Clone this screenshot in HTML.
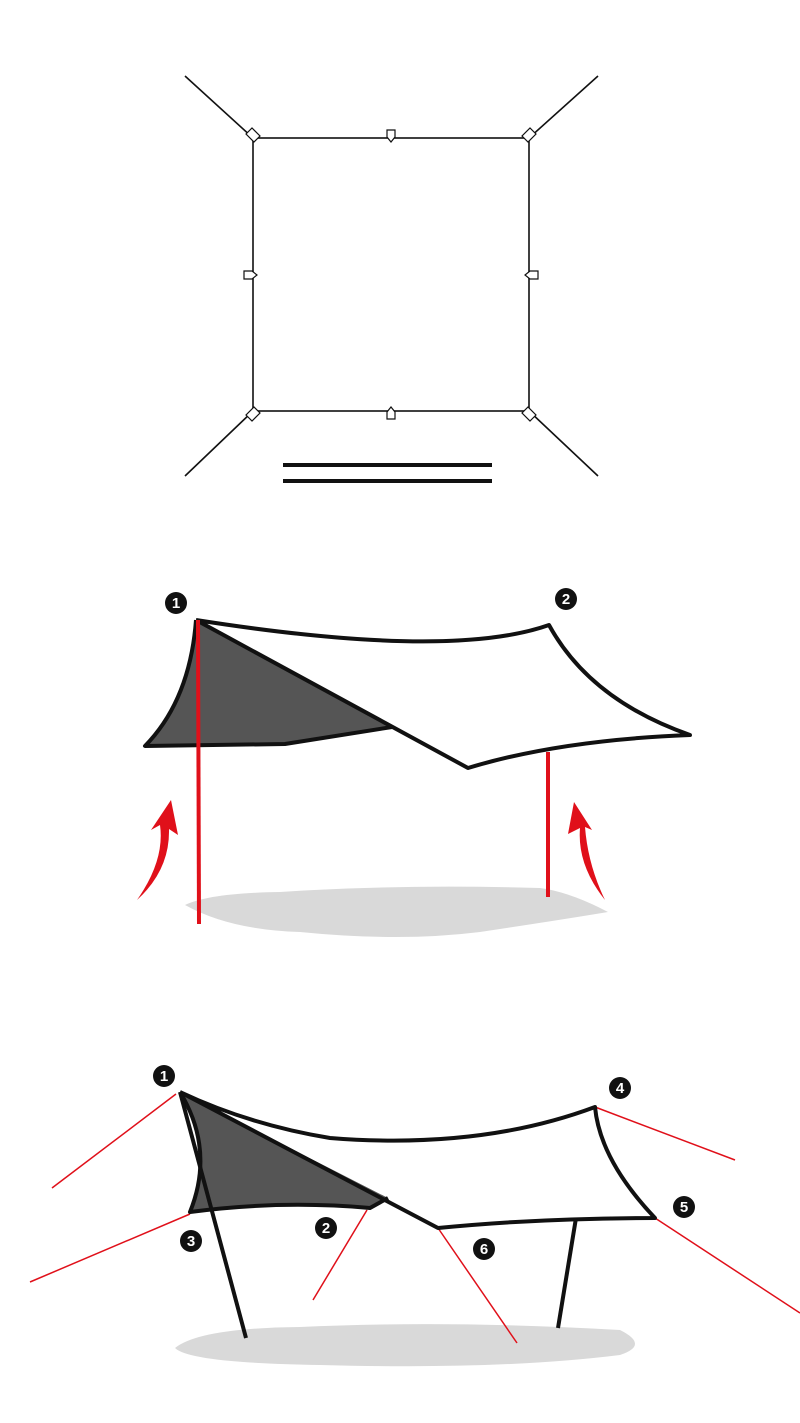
<!DOCTYPE html>
<html><head><style>html,body{margin:0;padding:0;background:#fff}svg{display:block}</style></head><body>
<svg width="800" height="1423" viewBox="0 0 800 1423" xmlns="http://www.w3.org/2000/svg" font-family="Liberation Sans, sans-serif">
<!-- Diagram 1 -->
<g stroke="#111" stroke-width="1.6" fill="none">
<rect x="253" y="138" width="276" height="273"/>
<line x1="185" y1="76" x2="253" y2="138"/><line x1="598" y1="76" x2="529" y2="138"/>
<line x1="185" y1="476" x2="253" y2="411"/><line x1="598" y1="476" x2="529" y2="411"/>
<path d="M246 134 l6 -6 l8 8 l-6 6z M536 134 l-6 -6 l-8 8 l6 6z M246 415 l6 6 l8 -8 l-6 -6z M536 415 l-6 6 l-8 -8 l6 -6z" stroke-width="1.2" fill="#fff"/>
<path d="M387 130 h8 v7 l-4 5 l-4 -5z M387 419 h8 v-7 l-4 -5 l-4 5z M244 271 v8 h8 l5 -4 l-5 -4z M538 271 v8 h-8 l-5 -4 l5 -4z" stroke-width="1.2" fill="#fff"/>
</g>
<line x1="283" y1="465" x2="492" y2="465" stroke="#111" stroke-width="4"/>
<line x1="283" y1="481" x2="492" y2="481" stroke="#111" stroke-width="4"/>
<!-- Diagram 2 -->
<path d="M185 905 Q210 893 280 892 Q400 884 540 888 Q570 892 608 912 Q560 920 480 932 Q400 942 300 932 Q230 930 185 905z" fill="#d9d9d9"/>
<path d="M196 620 Q190 700 145 746 L285 744 L392 727 Z" fill="#555"/>
<g stroke="#111" stroke-width="4" fill="none" stroke-linejoin="round">
<path d="M196 620 Q190 700 145 746 L285 744 L392 727"/>
<path d="M196 620 L468 768 Q560 740 690 735 Q590 700 549 625 Q450 660 196 620"/>
</g>
<line x1="198" y1="620" x2="199" y2="924" stroke="#e0101a" stroke-width="4"/>
<line x1="548" y1="752" x2="548" y2="897" stroke="#e0101a" stroke-width="4"/>
<path d="M137 900 Q165 860 160 825 L151 830 L171 800 L178 835 L169 829 Q170 870 137 900z" fill="#e0101a"/>
<path d="M605 900 Q577 865 580 828 L568 834 L574 802 L592 830 L585 827 Q588 865 605 900z" fill="#e0101a"/>
<g font-weight="bold" font-size="15" text-anchor="middle">
<circle cx="176" cy="603" r="11" fill="#111"/><text x="176" y="608" fill="#fff">1</text>
<circle cx="566" cy="599" r="11" fill="#111"/><text x="566" y="604" fill="#fff">2</text>
</g>
<!-- Diagram 3 -->
<path d="M175 1348 Q200 1328 300 1327 Q450 1320 620 1330 Q650 1345 620 1355 Q500 1370 320 1365 Q190 1363 175 1348z" fill="#d9d9d9"/>
<path d="M180 1092 Q215 1150 190 1212 Q280 1200 370 1208 L388 1198 Z" fill="#555"/>
<g stroke="#e0101a" stroke-width="1.5">
<line x1="176" y1="1094" x2="52" y2="1188"/><line x1="190" y1="1214" x2="30" y2="1282"/>
<line x1="367" y1="1210" x2="313" y2="1300"/><line x1="438" y1="1228" x2="517" y2="1343"/>
<line x1="595" y1="1107" x2="735" y2="1160"/><line x1="655" y1="1218" x2="800" y2="1313"/>
</g>
<g stroke="#111" stroke-width="4" fill="none" stroke-linejoin="round">
<path d="M180 1092 Q215 1150 190 1212 Q280 1200 370 1208 L388 1198"/>
<path d="M180 1092 L438 1228 Q540 1218 655 1218 Q600 1160 595 1107 Q480 1150 330 1138 Q250 1125 180 1092"/>
<line x1="180" y1="1092" x2="246" y2="1338"/>
<line x1="576" y1="1218" x2="558" y2="1328"/>
</g>
<g font-weight="bold" font-size="15" text-anchor="middle">
<circle cx="164" cy="1076" r="11" fill="#111"/><text x="164" y="1081" fill="#fff">1</text>
<circle cx="620" cy="1088" r="11" fill="#111"/><text x="620" y="1093" fill="#fff">4</text>
<circle cx="684" cy="1207" r="11" fill="#111"/><text x="684" y="1212" fill="#fff">5</text>
<circle cx="191" cy="1241" r="11" fill="#111"/><text x="191" y="1246" fill="#fff">3</text>
<circle cx="326" cy="1228" r="11" fill="#111"/><text x="326" y="1233" fill="#fff">2</text>
<circle cx="484" cy="1249" r="11" fill="#111"/><text x="484" y="1254" fill="#fff">6</text>
</g>
</svg>
</body></html>
